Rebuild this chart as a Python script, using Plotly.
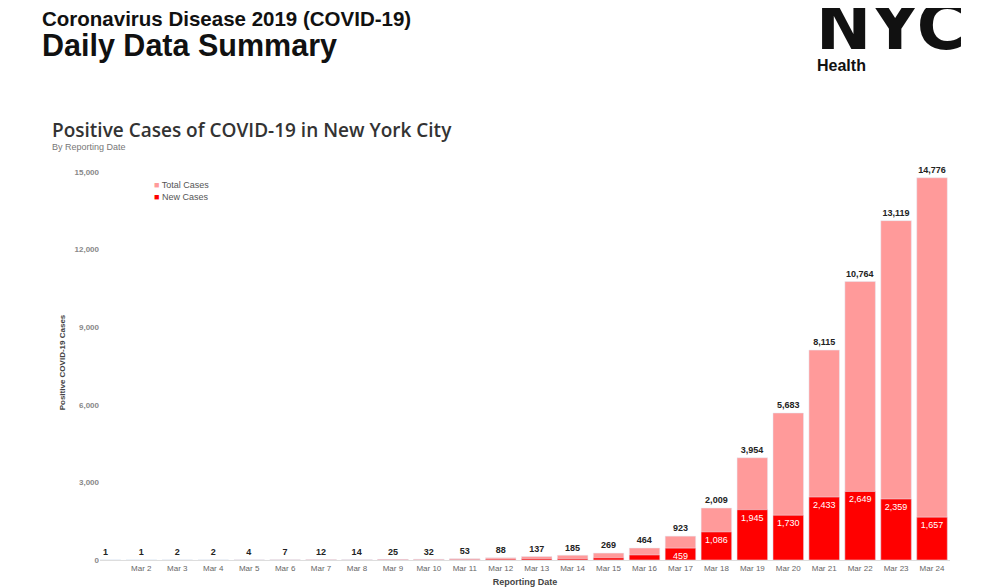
import plotly.graph_objects as go

dates = ["Mar 1", "Mar 2", "Mar 3", "Mar 4", "Mar 5", "Mar 6", "Mar 7", "Mar 8",
         "Mar 9", "Mar 10", "Mar 11", "Mar 12", "Mar 13", "Mar 14", "Mar 15",
         "Mar 16", "Mar 17", "Mar 18", "Mar 19", "Mar 20", "Mar 21", "Mar 22",
         "Mar 23", "Mar 24"]
tick_labels = [""] + dates[1:]  # first label is hidden in the original
total_cases = [1, 1, 2, 2, 4, 7, 12, 14, 25, 32, 53, 88, 137, 185, 269, 464,
               923, 2009, 3954, 5683, 8115, 10764, 13119, 14776]
new_cases = [1, 0, 1, 0, 2, 3, 5, 2, 11, 7, 21, 35, 49, 48, 84, 195,
             459, 1086, 1945, 1730, 2433, 2649, 2359, 1657]
y_ticks = [0, 3000, 6000, 9000, 12000, 15000]

TOTAL_COLOR = "#ff9a9a"
NEW_COLOR = "#ff0000"

# page body has an 8px margin, so the figure is drawn 8px in from the corner
OFF = 8
W, H = 999, 579
L, R, T, B = 92, 57, 157, 27

new_text = [f"{v:,}" if v >= 400 else "" for v in new_cases]

fig = go.Figure()
fig.add_trace(go.Bar(
    x=dates, y=total_cases, name="Total Cases",
    marker_color=TOTAL_COLOR, width=0.85,
    texttemplate="<b>%{y:,}</b>", textposition="outside",
    textfont=dict(family="Liberation Sans", size=11, color="#222222"),
    cliponaxis=False,
))
fig.add_trace(go.Bar(
    x=dates, y=new_cases, name="New Cases",
    marker_color=NEW_COLOR, width=0.85,
    text=new_text, textposition="inside", insidetextanchor="end",
    textfont=dict(family="Liberation Sans", size=9, color="white"),
    textangle=0,
))

fig.update_layout(
    width=W, height=H,
    barmode="overlay",
    plot_bgcolor="white", paper_bgcolor="white",
    margin=dict(l=L, r=R, t=T, b=B),
    font=dict(family="Liberation Sans", color="#555555"),
    showlegend=False,
    uniformtext=dict(minsize=7, mode="show"),
)
fig.update_xaxes(
    type="category", tickvals=dates, ticktext=tick_labels,
    range=[-0.15, 23.5], automargin=False,
    tickfont=dict(size=8, color="#666666"),
    showgrid=False, showline=True, linecolor="#dddddd", linewidth=1,
    ticks="",
    title=dict(text="<b>Reporting Date</b>", font=dict(size=9, color="#444444"),
               standoff=18),
)
fig.update_yaxes(
    range=[0, 15270], tickvals=y_ticks,
    ticktext=[f"<b>{v:,}</b>" for v in y_ticks], automargin=False,
    tickfont=dict(size=8, color="#888888"),
    showgrid=False, zeroline=False, showline=False, ticks="",
    title=dict(text="<b>Positive COVID-19 Cases</b>",
               font=dict(size=8, color="#444444"), standoff=7),
)


def px_note(x, y, text, size, color, family="Liberation Sans", weight=None):
    # place a text by its left edge / vertical middle in screenshot pixels
    fx, fy = x - OFF, y - OFF
    fig.add_annotation(
        x=(fx - L) / (W - L - R), y=(H - fy - B) / (H - T - B),
        xref="paper", yref="paper", text=text, showarrow=False,
        xanchor="left", yanchor="middle", borderpad=0,
        font=dict(family=family, size=size, color=color, weight=weight),
    )


# header and logo
px_note(41, 18, "<b>Coronavirus Disease 2019 (COVID-19)</b>", 20.5, "#111111")
px_note(41, 46, "<b>Daily Data Summary</b>", 30.5, "#111111")
px_note(815, 27, "<b>NYC</b>", 66, "#111111", family="DejaVu Sans")
px_note(816, 65, "<b>Health</b>", 16, "#111111")

# chart title
px_note(51, 130, "Positive Cases of COVID-19 in New York City", 19, "#333333",
        family="Open Sans", weight=600)
px_note(51, 147, "By Reporting Date", 9, "#777777")

# legend
px_note(153, 185, f"<span style='color:{TOTAL_COLOR}'>■</span> Total Cases", 9, "#555555")
px_note(153, 197, f"<span style='color:{NEW_COLOR}'>■</span> New Cases", 9, "#555555")

fig.write_html("out.html")
